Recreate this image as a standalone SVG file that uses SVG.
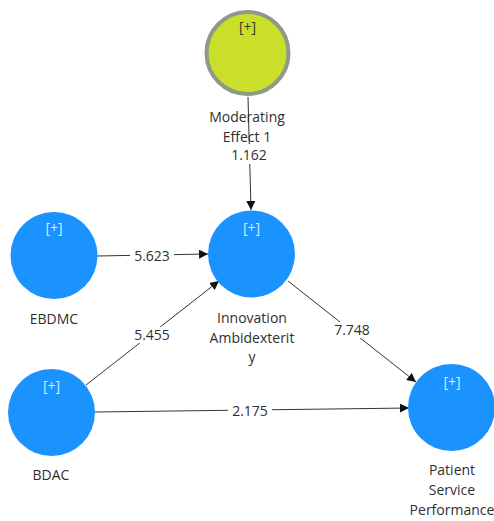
<svg xmlns="http://www.w3.org/2000/svg" width="494" height="521" viewBox="0 0 494 521">
  <style>
    .lbl { font-family: "Open Sans", "Noto Sans", sans-serif; font-size: 14px; fill: #2f2f2f; text-anchor: middle; }
    .plus { font-family: "Open Sans", "Noto Sans", sans-serif; font-size: 14px; text-anchor: middle; }
    .plus-w { fill: #d8ecff; }
    .plus-d { fill: #3a3a1a; }
    .lv { fill: #1a93fe; }
    .mod { fill: #cade2a; stroke: #8c9a88; stroke-width: 4; }
    .edge { stroke: #333333; stroke-width: 1; fill: none; marker-end: url(#arrow); }
    .val { font-family: "Open Sans", "Noto Sans", sans-serif; font-size: 14px; fill: #2f2f2f; text-anchor: middle; }
    .bg { fill: #ffffff; }
  </style>
  <defs>
    <marker id="arrow" viewBox="0 0 10 10" refX="10" refY="5" markerWidth="9" markerHeight="9" markerUnits="userSpaceOnUse" orient="auto">
      <path d="M0,0 L10,5 L0,10 z" fill="#111111"/>
    </marker>
  </defs>
  <rect width="494" height="521" fill="#ffffff"/>

  <!-- connectors with path coefficients -->
  <g id="connectors">
    <line class="edge" x1="248" y1="97" x2="251" y2="210"/>
    <line class="edge" x1="97" y1="256" x2="208" y2="254"/>
    <line class="edge" x1="86" y1="385" x2="219" y2="281"/>
    <line class="edge" x1="288" y1="281" x2="416" y2="382"/>
    <line class="edge" x1="95" y1="412" x2="409" y2="408"/>
    <rect class="bg" x="130" y="248" width="44" height="16"/>
    <text class="val" x="152" y="261">5.623</text>
    <rect class="bg" x="130" y="327" width="44" height="16"/>
    <text class="val" x="152" y="340">5.455</text>
    <rect class="bg" x="330" y="322" width="44" height="16"/>
    <text class="val" x="352" y="335">7.748</text>
    <rect class="bg" x="228" y="403" width="44" height="16"/>
    <text class="val" x="250" y="416">2.175</text>
    <rect class="bg" x="227" y="144" width="44" height="20"/>
  </g>

  <g id="moderating-effect-1">
    <circle class="mod" cx="247.5" cy="53" r="41"/>
    <text class="plus plus-d" x="247.5" y="32">[+]</text>
    <text class="lbl" x="247" y="122">Moderating</text>
    <text class="lbl" x="247" y="142">Effect 1</text>
    <text class="lbl" x="249" y="160">1.162</text>
  </g>

  <g id="ebdmc">
    <circle class="lv" cx="54" cy="255.5" r="43.5"/>
    <text class="plus plus-w" x="54" y="233">[+]</text>
    <text class="lbl" x="54" y="324">EBDMC</text>
  </g>

  <g id="innovation-ambidexterity">
    <circle class="lv" cx="251.5" cy="254" r="43.5"/>
    <text class="plus plus-w" x="251.5" y="233">[+]</text>
    <text class="lbl" x="252" y="323">Innovation</text>
    <text class="lbl" x="252" y="343">Ambidexterit</text>
    <text class="lbl" x="252" y="362">y</text>
  </g>

  <g id="bdac">
    <circle class="lv" cx="51.5" cy="412.5" r="43.5"/>
    <text class="plus plus-w" x="51.5" y="391">[+]</text>
    <text class="lbl" x="51" y="480">BDAC</text>
  </g>

  <g id="patient-service-performance">
    <circle class="lv" cx="451.5" cy="407.5" r="43.5"/>
    <text class="plus plus-w" x="452" y="387">[+]</text>
    <text class="lbl" x="452" y="475">Patient</text>
    <text class="lbl" x="452" y="495">Service</text>
    <text class="lbl" x="452" y="515">Performance</text>
  </g>
</svg>
